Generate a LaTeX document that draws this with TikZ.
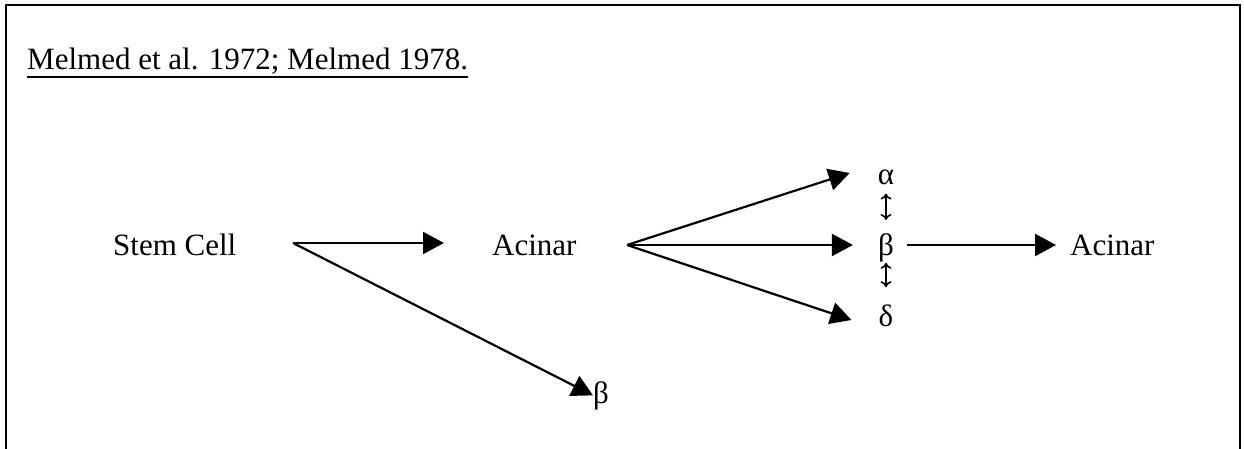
\documentclass[tikz,border=0pt]{standalone}
\usepackage{fontspec}
\setmainfont{Liberation Serif}
\usetikzlibrary{arrows.meta,calc}
\begin{document}
\begin{tikzpicture}[x=1pt,y=-1pt,
  lbl/.style={inner sep=0pt,font=\fontsize{31}{37}\selectfont},
  arr/.style={line width=2.2pt,-{Triangle[length=21pt,width=22pt]}},
  swap/.style={line width=1.6pt,{To[length=6pt,width=11pt]}-{To[length=6pt,width=11pt]}}]
  \useasboundingbox (0,0) rectangle (1244,449);
  % frame, open at the bottom
  \draw[line width=2pt] (6,449) -- (6,5) -- (1240,5) -- (1240,449);

  % heading
  \node[lbl,anchor=base west] (title) at (27,70) {Melmed et al. 1972; Melmed 1978.};
  \draw[line width=1.8pt] ($(title.base west)+(0,7)$) -- ($(title.base east)+(0,7)$);

  % cells
  \node[lbl,anchor=base west] (stem)    at (113,255) {Stem Cell};
  \node[lbl,anchor=base west] (acin1)   at (492,255) {Acinar};
  \node[lbl,anchor=base]      (alpha)   at (886,185) {α};
  \node[lbl,anchor=base]      (beta)    at (886,255) {β};
  \node[lbl,anchor=base]      (delta)   at (886,326) {δ};
  \node[lbl,anchor=base west] (acin2)   at (1070,255) {Acinar};
  \node[lbl,anchor=base west] (betalow) at (593,403) {β};

  % branch points
  \coordinate (s1) at (293,243);
  \coordinate (f1) at (627,245);
  \coordinate (b1) at (907,245);

  % stem cell
  \draw[arr,shorten >=48pt] (s1) -- (s1 -| acin1.west);
  \draw[arr,shorten >=0pt] (s1) -- (betalow.west);

  % acinar fan-out
  \draw[arr] (f1) -- ($(alpha.base west)+(-28,-12)$);
  \draw[arr,shorten >=25pt] (f1) -- (f1 -| beta.west);
  \draw[arr] (f1) -- ($(delta.base west)+(-27,-6)$);

  % interconversion
  \draw[swap,shorten <=8pt,shorten >=13pt] (alpha.south) -- (beta.north);
  \draw[swap,shorten <=1pt,shorten >=17pt] (beta.south) -- (delta.north);

  % beta to acinar
  \draw[arr,shorten >=14pt] (b1) -- (b1 -| acin2.west);
\end{tikzpicture}
\end{document}
